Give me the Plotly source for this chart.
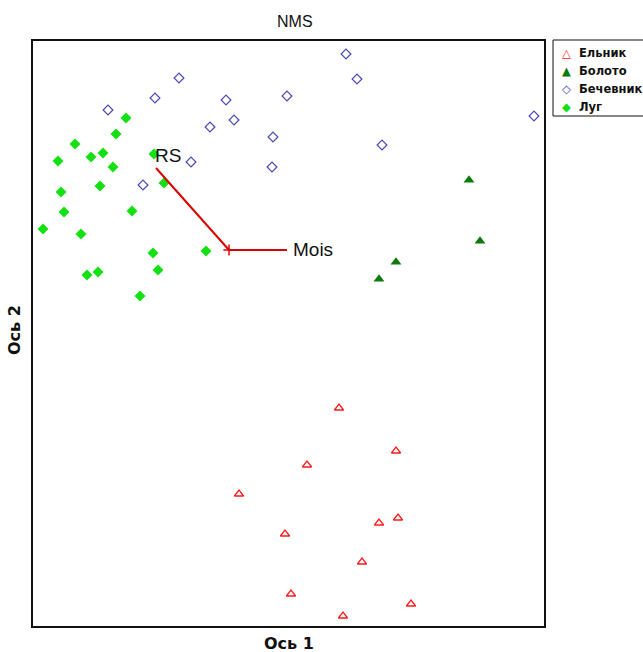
import plotly.graph_objects as go

# Ordination scores (arbitrary NMS units; axes carry no ticks)
el_x = [307, 364, 275, 207, 347, 366, 253, 330, 259, 379, 311]
el_y = [219, 176, 162, 133, 104, 109, 93, 65, 33, 23, 11]

bol_x = [437, 448, 364, 347]
bol_y = [447, 386, 365, 348]

bech_x = [314, 325, 147, 123, 255, 76, 194, 178, 202, 241, 159, 111, 240, 350, 502]
bech_y = [573, 548, 549, 529, 531, 517, 527, 500, 507, 490, 465, 442, 460, 482, 511]

lug_x = [94, 84, 43, 26, 59, 71, 81, 122, 68, 29, 132, 32, 100, 11, 49, 174, 121, 126, 55, 66, 108]
lug_y = [509, 493, 483, 466, 470, 474, 460, 473, 441, 435, 444, 415, 416, 398, 393, 376, 374, 357, 352, 355, 331]

group_names = ["Ельник", "Болото", "Бечевник", "Луг"]

# Environmental vectors (joint plot)
vec_names = ["RS", "Mois"]
vec_origin = (197, 377)
vec_end_x = [124, 255]
vec_end_y = [459, 377]

X_RANGE = [0, 513]
Y_RANGE = [0, 587]

# plot area in pixels (for paper-coordinate helpers)
PL, PR, PT, PB = 32, 545, 40, 627
def px_x(p):
    return (p - PL) / (PR - PL)
def px_y(p):
    return (PB - p) / (PB - PT)

styles = [
    dict(symbol="triangle-up-open", size=8, color="#ff1a1a", line=dict(width=1.3, color="#ff1a1a")),
    dict(symbol="triangle-up", size=9.5, color="#0a7a0a"),
    dict(symbol="diamond-open", size=7.5, color="#4a4ab8", line=dict(width=1.2, color="#4a4ab8")),
    dict(symbol="diamond", size=8.5, color="#14e014"),
]
glyphs = ["△", "▲", "◇", "◆"]
glyph_colors = ["#ff1a1a", "#0a7a0a", "#4a4ab8", "#14e014"]

fig = go.Figure()

for name, xs, ys, st in zip(group_names, [el_x, bol_x, bech_x, lug_x],
                            [el_y, bol_y, bech_y, lug_y], styles):
    fig.add_trace(go.Scatter(x=xs, y=ys, mode="markers", name=name, marker=st,
                             showlegend=False))

for name, ex, ey in zip(vec_names, vec_end_x, vec_end_y):
    fig.add_trace(go.Scatter(x=[vec_origin[0], ex], y=[vec_origin[1], ey], mode="lines",
                             line=dict(color="#dd0000", width=2), showlegend=False,
                             hoverinfo="skip"))
    fig.add_annotation(x=ex, y=ey, text=name, showarrow=False,
                       xanchor="left", yanchor="middle",
                       xshift=(-3 if name == "RS" else 4), yshift=(13 if name == "RS" else 1),
                       font=dict(family="Liberation Sans, Arial", size=19, color="#111"))

fig.add_trace(go.Scatter(x=[vec_origin[0]], y=[vec_origin[1]], mode="markers",
                         marker=dict(symbol="cross-thin", size=8,
                                     line=dict(color="#dd0000", width=1.5)),
                         showlegend=False, hoverinfo="skip"))

# frame
fig.add_shape(type="rect", xref="paper", yref="paper", x0=0, y0=0, x1=1, y1=1,
              line=dict(color="#111", width=2), layer="above")

# legend box (drawn by hand so that it hugs the frame like the original)
fig.add_shape(type="rect", xref="paper", yref="paper",
              x0=px_x(553), x1=px_x(660), y0=px_y(116), y1=px_y(40),
              line=dict(color="#111", width=1), fillcolor="white", layer="above")
for i, (name, g, c) in enumerate(zip(group_names, glyphs, glyph_colors)):
    yy = px_y(53 + i * 18)
    fig.add_annotation(text=g, xref="paper", yref="paper", x=px_x(566), y=yy,
                       showarrow=False, xanchor="center", yanchor="middle",
                       font=dict(family="DejaVu Sans", size=11.5, color=c))
    fig.add_annotation(text="<b>%s</b>" % name, xref="paper", yref="paper", x=px_x(577), y=yy,
                       showarrow=False, xanchor="left", yanchor="middle",
                       font=dict(family="DejaVu Sans", size=11.5, color="#111"))

fig.add_annotation(text="NMS", xref="paper", yref="paper", x=px_x(295), y=px_y(22),
                   showarrow=False, xanchor="center", yanchor="middle",
                   font=dict(family="Liberation Sans, Arial", size=16, color="#111"))
fig.add_annotation(text="<b>Ось 1</b>", xref="paper", yref="paper", x=0.5, y=px_y(643),
                   showarrow=False, xanchor="center", yanchor="middle",
                   font=dict(family="DejaVu Sans", size=16, color="#111"))
fig.add_annotation(text="<b>Ось 2</b>", xref="paper", yref="paper", x=px_x(15), y=0.506,
                   showarrow=False, xanchor="center", yanchor="middle", textangle=-90,
                   font=dict(family="DejaVu Sans", size=16, color="#111"))

fig.update_xaxes(range=X_RANGE, showticklabels=False, showgrid=False, zeroline=False,
                 ticks="", showline=False)
fig.update_yaxes(range=Y_RANGE, showticklabels=False, showgrid=False, zeroline=False,
                 ticks="", showline=False)

fig.update_layout(
    width=643, height=652,
    margin=dict(l=PL, r=643 - PR, t=PT, b=652 - PB, autoexpand=False),
    paper_bgcolor="white", plot_bgcolor="white",
    showlegend=False,
)

fig.write_html("out.html")
